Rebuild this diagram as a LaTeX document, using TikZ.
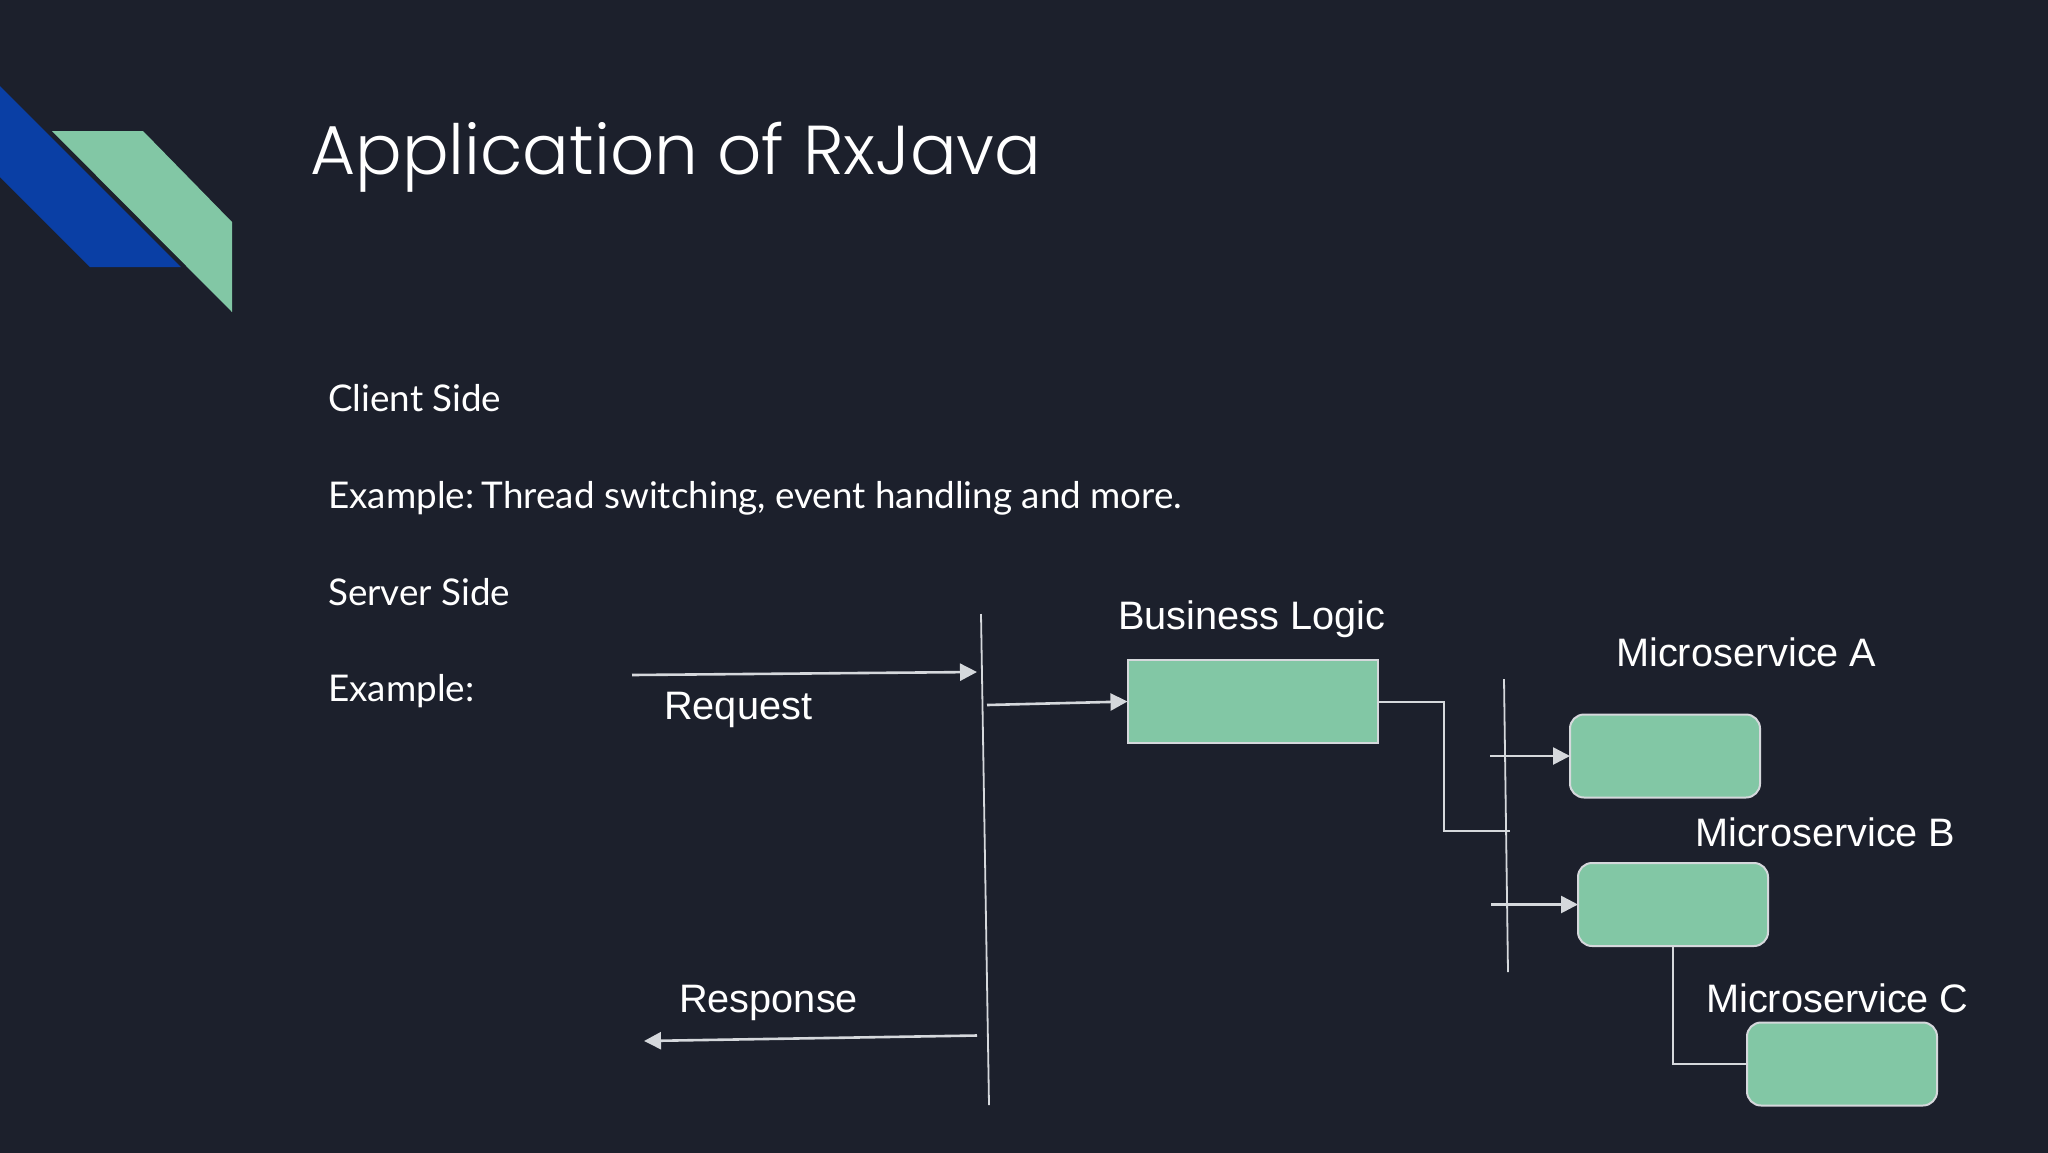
\documentclass[tikz,border=0pt]{standalone}
\usepackage{fontspec}
\usetikzlibrary{arrows.meta}
\setmainfont{Liberation Sans}
\newfontfamily\titlefont{Poppins Light}
\newfontfamily\bodyfont{Lato}
\definecolor{bgc}{HTML}{1C202C}
\definecolor{greenc}{HTML}{82C7A5}
\definecolor{bluec}{HTML}{0A3FA5}
\definecolor{linec}{HTML}{D5D8DC}
\tikzset{
  x=1pt,y=-1pt,
  sharpbox/.style={draw=linec,line width=2pt,fill=greenc,minimum width=250pt,minimum height=83pt,inner sep=0pt,outer sep=0pt},
  svcbox/.style={draw=linec,line width=2pt,fill=greenc,rounded corners=14pt,minimum width=190pt,minimum height=83pt,inner sep=0pt,outer sep=0pt},
  bar/.style={draw=linec,line width=1.8pt},
  wire/.style={draw=linec,line width=2pt},
  arrowline/.style={draw=linec,line width=2.6pt,-{Triangle[length=17pt,width=17pt,fill=linec]},shorten >=0pt},
  label/.style={anchor=base west,inner sep=0pt,text=white,font=\fontsize{39.7}{46}\selectfont},
  bodytext/.style={anchor=base west,inner sep=0pt,text=white,font=\bodyfont\fontsize{36.8}{44}\selectfont},
  titletext/.style={anchor=base west,inner sep=0pt,text=white,font=\titlefont\fontsize{69.2}{80}\selectfont},
}
\begin{document}
\begin{tikzpicture}
\useasboundingbox (0,0) rectangle (2048,1152);
\fill[bgc] (-5,-5) rectangle (2053,1157);
% corner decoration
\fill[bluec] (0,86) -- (181,267) -- (90,267) -- (0,177) -- cycle;
\fill[greenc] (52,131) -- (143,131) -- (232,222) -- (232,312) -- cycle;
% texts
\node[titletext] (title) at (310,174) {Application of RxJava};
\node[bodytext] (client) at (328,411) {Client Side};
\node[bodytext] (ex1) at (328,508) {Example:\kern-5pt{} Thread switching, event handling and more.};
\node[bodytext] (server) at (328,605) {Server Side};
\node[bodytext] (ex2) at (328,701) {Example:};
% boxes
\node[sharpbox] (bl) at (1252.5,701.5) {};
\node[svcbox] (a) at (1665,756) {};
\node[svcbox] (b) at (1673,904.5) {};
\node[svcbox] (c) at (1842,1064) {};
% labels
\node[label] (bllabel) at (1118,629) {Business Logic};
\node[label] (alabel) at (1616,666) {Microservice A};
\node[label] (blabel) at (1695,846) {Microservice B};
\node[label] (clabel) at (1706,1012) {Microservice C};
\node[label] (req) at (664,719) {Request};
\node[label] (resp) at (679,1012) {Response};
% free ends
\coordinate (v1a) at (981,614);
\coordinate (v1b) at (989,1105);
\coordinate (v2a) at (1504,679);
\coordinate (v2b) at (1508,972);
\coordinate (reqs) at (632,675);
\coordinate (reqe) at (977,672);
\coordinate (bls) at (987,705);
\coordinate (resps) at (977,1035.5);
\coordinate (respe) at (644,1041);
\coordinate (as) at (1490,756);
\coordinate (bs) at (1491,904.5);
\coordinate (elbow1) at (1444,701.5);
\coordinate (elbow2) at (1444,831);
\coordinate (elbow3) at (1510,831);
\coordinate (cc) at (1673,1064);
% connectors
\draw[bar] (v1a) -- (v1b);
\draw[bar] (v2a) -- (v2b);
\draw[arrowline] (reqs) -- (reqe);
\draw[arrowline] (bls) -- (bl.west);
\draw[arrowline] (resps) -- (respe);
\draw[arrowline] (as) -- (a.west);
\draw[arrowline] (bs) -- (b.west);
\draw[wire] (bl.east) -- (elbow1) -- (elbow2) -- (elbow3);
\draw[wire] (b.south) -- (cc) -- (c.west);
\end{tikzpicture}
\end{document}
